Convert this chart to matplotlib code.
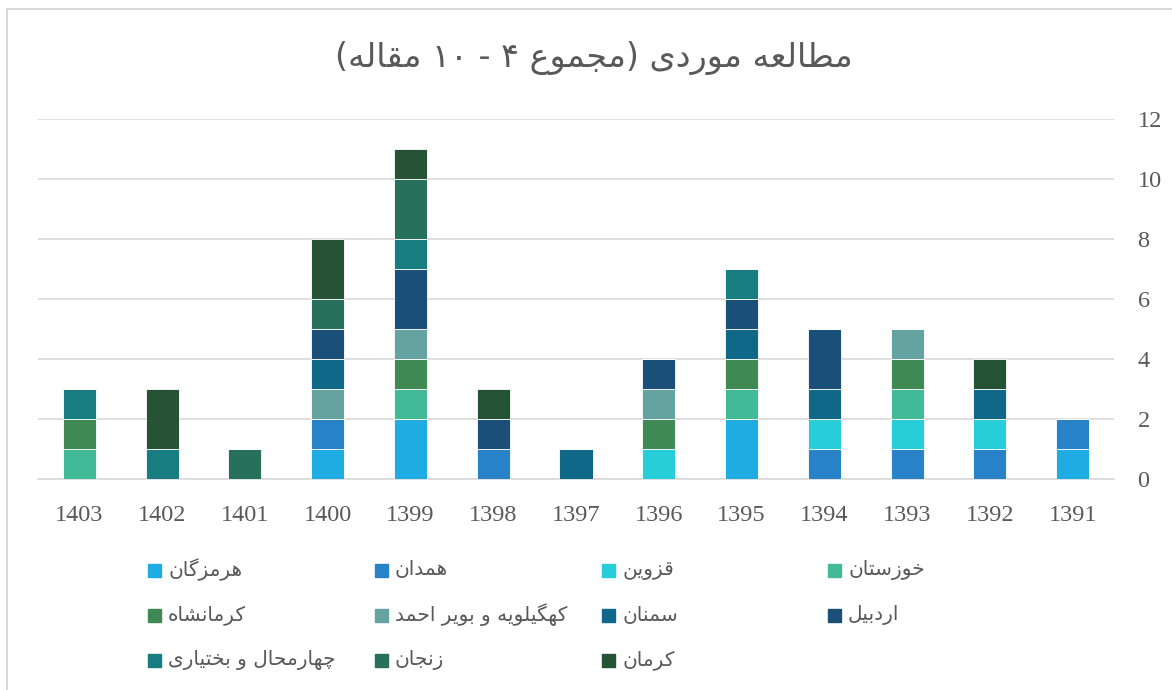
import re
import numpy as np
import matplotlib
matplotlib.use('Agg')
import matplotlib.pyplot as plt
from matplotlib.lines import Line2D
from matplotlib.patches import Rectangle

# --- data -------------------------------------------------------------
years = ['1403', '1402', '1401', '1400', '1399', '1398', '1397',
         '1396', '1395', '1394', '1393', '1392', '1391']

provinces = ['هرمزگان', 'همدان', 'قزوین', 'خوزستان', 'کرمانشاه',
             'کهگیلویه و بویر احمد', 'سمنان', 'اردبیل',
             'چهارمحال و بختیاری', 'زنجان', 'کرمان']

hormozgan = [0, 0, 0, 1, 2, 0, 0, 0, 2, 0, 0, 0, 1]
hamedan = [0, 0, 0, 1, 0, 1, 0, 0, 0, 1, 1, 1, 1]
qazvin = [0, 0, 0, 0, 0, 0, 0, 1, 0, 1, 1, 1, 0]
khuzestan = [1, 0, 0, 0, 1, 0, 0, 0, 1, 0, 1, 0, 0]
kermanshah = [1, 0, 0, 0, 1, 0, 0, 1, 1, 0, 1, 0, 0]
kohgiluyeh = [0, 0, 0, 1, 1, 0, 0, 1, 0, 0, 1, 0, 0]
semnan = [0, 0, 0, 1, 0, 0, 1, 0, 1, 1, 0, 1, 0]
ardabil = [0, 0, 0, 1, 2, 1, 0, 1, 1, 2, 0, 0, 0]
chaharmahal = [1, 1, 0, 0, 1, 0, 0, 0, 1, 0, 0, 0, 0]
zanjan = [0, 0, 1, 1, 2, 0, 0, 0, 0, 0, 0, 0, 0]
kerman = [0, 2, 0, 2, 1, 1, 0, 0, 0, 0, 0, 1, 0]

series = [hormozgan, hamedan, qazvin, khuzestan, kermanshah, kohgiluyeh,
          semnan, ardabil, chaharmahal, zanjan, kerman]

colors = ['#1EACE3', '#2882C8', '#27CDD8', '#43BA97', '#3F8955', '#64A39F',
          '#106888', '#1A4F78', '#177D80', '#27705C', '#265235']

title = 'مطالعه موردی (مجموع ۴ - ۱۰ مقاله)'

# --- minimal arabic shaping (matplotlib has no bidi / joining) --------
DUAL = {'ب': 0xFE8F, 'ت': 0xFE95, 'ث': 0xFE99, 'ج': 0xFE9D, 'ح': 0xFEA1,
        'خ': 0xFEA5, 'س': 0xFEB1, 'ش': 0xFEB5, 'ص': 0xFEB9, 'ض': 0xFEBD,
        'ط': 0xFEC1, 'ظ': 0xFEC5, 'ع': 0xFEC9, 'غ': 0xFECD, 'ف': 0xFED1,
        'ق': 0xFED5, 'ل': 0xFEDD, 'م': 0xFEE1, 'ن': 0xFEE5, 'ه': 0xFEE9,
        'ی': 0xFBFC, 'ک': 0xFB8E, 'گ': 0xFB92, 'چ': 0xFB7A, 'پ': 0xFB56}
RIGHT = {'ا': 0xFE8D, 'د': 0xFEA9, 'ذ': 0xFEAB, 'ر': 0xFEAD, 'ز': 0xFEAF,
         'و': 0xFEED, 'ژ': 0xFB8A}


def shape(s):
    out = []
    for i, c in enumerate(s):
        base = DUAL.get(c, RIGHT.get(c))
        if base is None:
            out.append(c)
            continue
        prev = s[i - 1] if i > 0 else ''
        nxt = s[i + 1] if i + 1 < len(s) else ''
        jp = prev in DUAL
        jn = c in DUAL and (nxt in DUAL or nxt in RIGHT)
        k = 3 if (jp and jn) else 1 if jp else 2 if jn else 0
        out.append(chr(base + k))
    return ''.join(out)


def rtl(s):
    tokens = re.findall(r'[0-9۰-۹]+|.', shape(s))
    vis = ''.join(reversed(tokens))
    return vis.translate(str.maketrans('()', ')('))


# --- figure -----------------------------------------------------------
grey = '#595959'
fig = plt.figure(figsize=(11.72, 6.9), dpi=100)
ax = fig.add_axes([38 / 1172, 1 - 479 / 690, 1076 / 1172, 360 / 690])

x = np.arange(len(years))
bottom = np.zeros(len(years))
for vals, col in zip(series, colors):
    ax.bar(x, vals, width=0.4, bottom=bottom, color=col,
           edgecolor='#ffffff', linewidth=0.6, zorder=3)
    bottom += np.array(vals)

ax.set_xlim(-0.5, len(years) - 0.5)
ax.set_ylim(0, 12)
ax.set_yticks(range(0, 13, 2))
ax.set_xticks(x)
ax.set_xticklabels(years)
ax.yaxis.tick_right()
ax.grid(axis='y', color='#d9d9d9', linewidth=1.2, zorder=0)
for side in ['left', 'right', 'top']:
    ax.spines[side].set_visible(False)
ax.spines['bottom'].set_color('#d9d9d9')
ax.spines['bottom'].set_linewidth(1.2)
ax.tick_params(length=0, colors=grey, labelsize=17.5)
ax.tick_params(axis='x', pad=19)
ax.tick_params(axis='y', pad=17)
for lab in ax.get_xticklabels() + ax.get_yticklabels():
    lab.set_fontfamily('Liberation Serif')
for lab in ax.get_yticklabels():
    lab.set_horizontalalignment('left')

fig.text(594 / 1172, 1 - 58 / 690, rtl(title), ha='center', va='center',
         fontsize=24, color=grey, family='DejaVu Sans')

# legend, row-wise like the original
col_x = [148, 375, 602, 828]
row_y = [570, 615, 660]
for i, (name, col) in enumerate(zip(provinces, colors)):
    r, c = divmod(i, 4)
    fig.add_artist(Rectangle((col_x[c] / 1172, 1 - (row_y[r] + 7) / 690),
                             13 / 1172, 13 / 690, color=col,
                             transform=fig.transFigure))
    fig.text((col_x[c] + 20) / 1172, 1 - row_y[r] / 690, rtl(name),
             ha='left', va='center', fontsize=14.5, color=grey,
             family='DejaVu Sans')

# chart frame (only top and left edges are visible in the original)
fig.add_artist(Line2D([7 / 1172, 1], [1 - 9 / 690, 1 - 9 / 690],
                      color='#d9d9d9', linewidth=1.5,
                      transform=fig.transFigure))
fig.add_artist(Line2D([7 / 1172, 7 / 1172], [0, 1 - 9 / 690],
                      color='#d9d9d9', linewidth=1.5,
                      transform=fig.transFigure))

fig.savefig('out.png', dpi=100, facecolor='white')
